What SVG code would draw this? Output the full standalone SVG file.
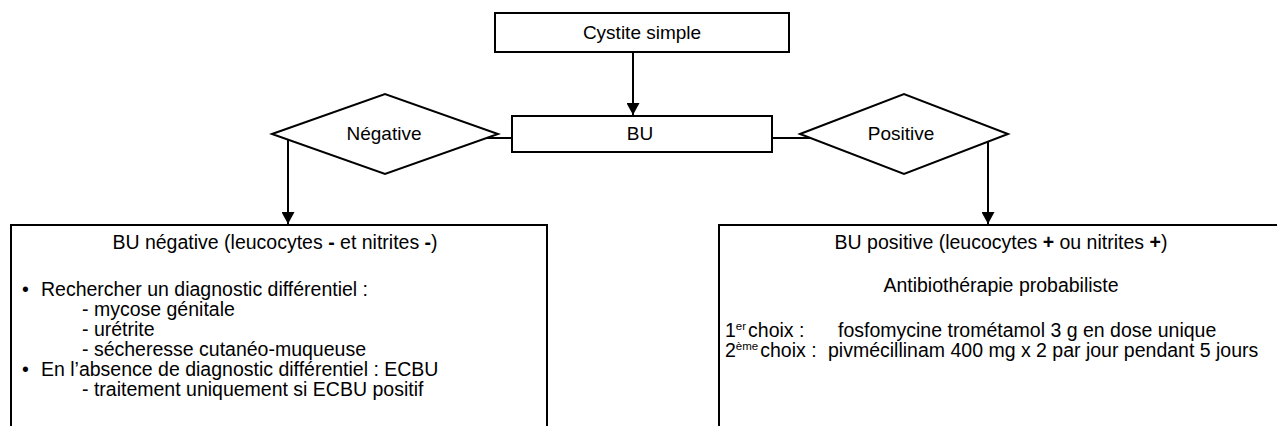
<svg xmlns="http://www.w3.org/2000/svg" width="1277" height="426" viewBox="0 0 1277 426">
<defs>
<style>
.box{fill:#fff;stroke:#000;stroke-width:2}
.ln{fill:none;stroke:#000;stroke-width:2}
text{font-family:"Liberation Sans",Arial,sans-serif;fill:#000;font-size:19.5px}
.s{font-size:19px}
.c{text-anchor:middle}
.b{font-weight:bold}
.sup{font-size:11.5px}
</style>
<marker id="ah" markerWidth="13" markerHeight="13" refX="12" refY="6.5" orient="auto" markerUnits="userSpaceOnUse">
<path d="M0,0 L12,6.5 L0,13 Z" fill="#000"/>
</marker>
</defs>
<rect width="1277" height="426" fill="#fff"/>
<g id="connectors">
<line class="ln" x1="633" y1="52" x2="633" y2="115" marker-end="url(#ah)"/>
<line class="ln" x1="486" y1="138" x2="512" y2="138"/>
<line class="ln" x1="772" y1="138" x2="810" y2="138"/>
<line class="ln" x1="288" y1="139" x2="288" y2="224" marker-end="url(#ah)"/>
<line class="ln" x1="988" y1="141" x2="988" y2="224" marker-end="url(#ah)"/>
</g>
<g id="cystite">
<rect class="box" x="495" y="13" width="294" height="39"/>
<text class="c s" x="642" y="39">Cystite simple</text>
</g>
<g id="bu">
<rect class="box" x="512" y="116" width="260" height="36"/>
<text class="c s" x="640" y="140">BU</text>
</g>
<g id="negative">
<polygon class="box" points="272,134 385,94 498,134 385,174"/>
<text class="c s" x="384" y="140">Négative</text>
</g>
<g id="positive">
<polygon class="box" points="800,134 904,94 1008,134 904,174"/>
<text class="c s" x="901" y="140">Positive</text>
</g>
<g id="bu-negative">
<rect class="box" x="11" y="225" width="536" height="215"/>
<text class="c" x="275" y="249">BU négative (leucocytes <tspan class="b">-</tspan> et nitrites <tspan class="b">-</tspan>)</text>
<text x="22" y="296">•</text>
<text x="41" y="296">Rechercher un diagnostic différentiel :</text>
<text x="82" y="316">- mycose génitale</text>
<text x="82" y="336">- urétrite</text>
<text x="82" y="356">- sécheresse cutanéo-muqueuse</text>
<text x="22" y="376">•</text>
<text x="41" y="376">En l’absence de diagnostic différentiel : ECBU</text>
<text x="82" y="396">- traitement uniquement si ECBU positif</text>
</g>
<g id="bu-positive">
<rect class="box" x="719" y="225" width="580" height="215"/>
<text class="c" x="1001" y="249">BU positive (leucocytes <tspan class="b">+</tspan> ou nitrites <tspan class="b">+</tspan>)</text>
<text class="c" x="1001" y="292">Antibiothérapie probabiliste</text>
<text x="725" y="337">1<tspan class="sup" dy="-7">er</tspan><tspan dy="7" dx="2">choix :</tspan></text>
<text x="838" y="337">fosfomycine trométamol 3 g en dose unique</text>
<text x="725" y="357">2<tspan class="sup" dy="-7">ème</tspan><tspan dy="7" dx="2">choix :</tspan></text>
<text x="828" y="357">pivmécillinam 400 mg x 2 par jour pendant 5 jours</text>
</g>
</svg>
